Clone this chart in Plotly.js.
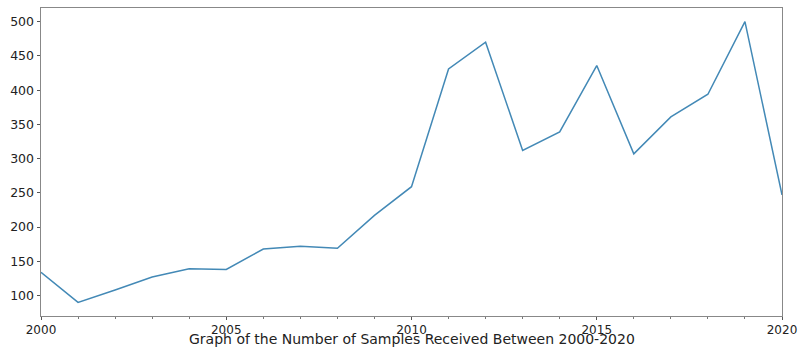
<!DOCTYPE html>
<html>
<head>
<meta charset="utf-8">
<script src="https://cdn.plot.ly/plotly-3.0.1.min.js"></script>
<style>html,body{margin:0;padding:0;background:#fff;}#chart{width:798px;height:347px;}</style>
</head>
<body>
<div id="chart"></div>
<script>
const years = [2000,2001,2002,2003,2004,2005,2006,2007,2008,2009,2010,2011,2012,2013,2014,2015,2016,2017,2018,2019,2020];
const samples = [134,90,108,127,139,138,168,172,169,217,259,431,470,312,339,436,307,361,394,500,247];
const xTitle = 'Graph of the Number of Samples Received Between 2000-2020';

const trace = {
  x: years, y: samples, type: 'scatter', mode: 'lines',
  line: {color: '#4389b6', width: 1.5}, hoverinfo: 'x+y'
};
const tickFont = {family: 'DejaVu Sans, sans-serif', size: 12.5, color: '#222'};
const xTickFont = {family: 'DejaVu Sans, sans-serif', size: 12, color: '#222'};
const titleFont = {family: 'DejaVu Sans, sans-serif', size: 14, color: '#222'};
const layout = {
  width: 798, height: 347,
  margin: {l: 41, r: 16, t: 8, b: 31},
  paper_bgcolor: '#fff', plot_bgcolor: '#fff',
  showlegend: false,
  font: tickFont,
  xaxis: {
    range: [2000, 2020], tick0: 2000, dtick: 5,
    ticks: 'outside', ticklen: 2.5, tickwidth: 1, tickcolor: '#555',
    minor: {dtick: 1, ticks: 'outside', ticklen: 2, tickcolor: '#777', showgrid: false},
    showgrid: false, zeroline: false,
    showline: true, mirror: true, linecolor: '#888', linewidth: 1,
    tickfont: xTickFont, ticklabeloverflow: 'allow'
  },
  yaxis: {
    range: [70.1, 520], tick0: 0, dtick: 50,
    ticks: 'outside', ticklen: 3.5, tickwidth: 1, tickcolor: '#555',
    showgrid: false, zeroline: false,
    showline: true, mirror: true, linecolor: '#888', linewidth: 1,
    tickfont: tickFont
  },
  annotations: [{
    text: xTitle, xref: 'paper', yref: 'paper', x: 0.5, y: -0.074,
    xanchor: 'center', yanchor: 'middle', showarrow: false, font: titleFont
  }]
};
Plotly.newPlot('chart', [trace], layout, {displayModeBar: false, staticPlot: true});
</script>
</body>
</html>
